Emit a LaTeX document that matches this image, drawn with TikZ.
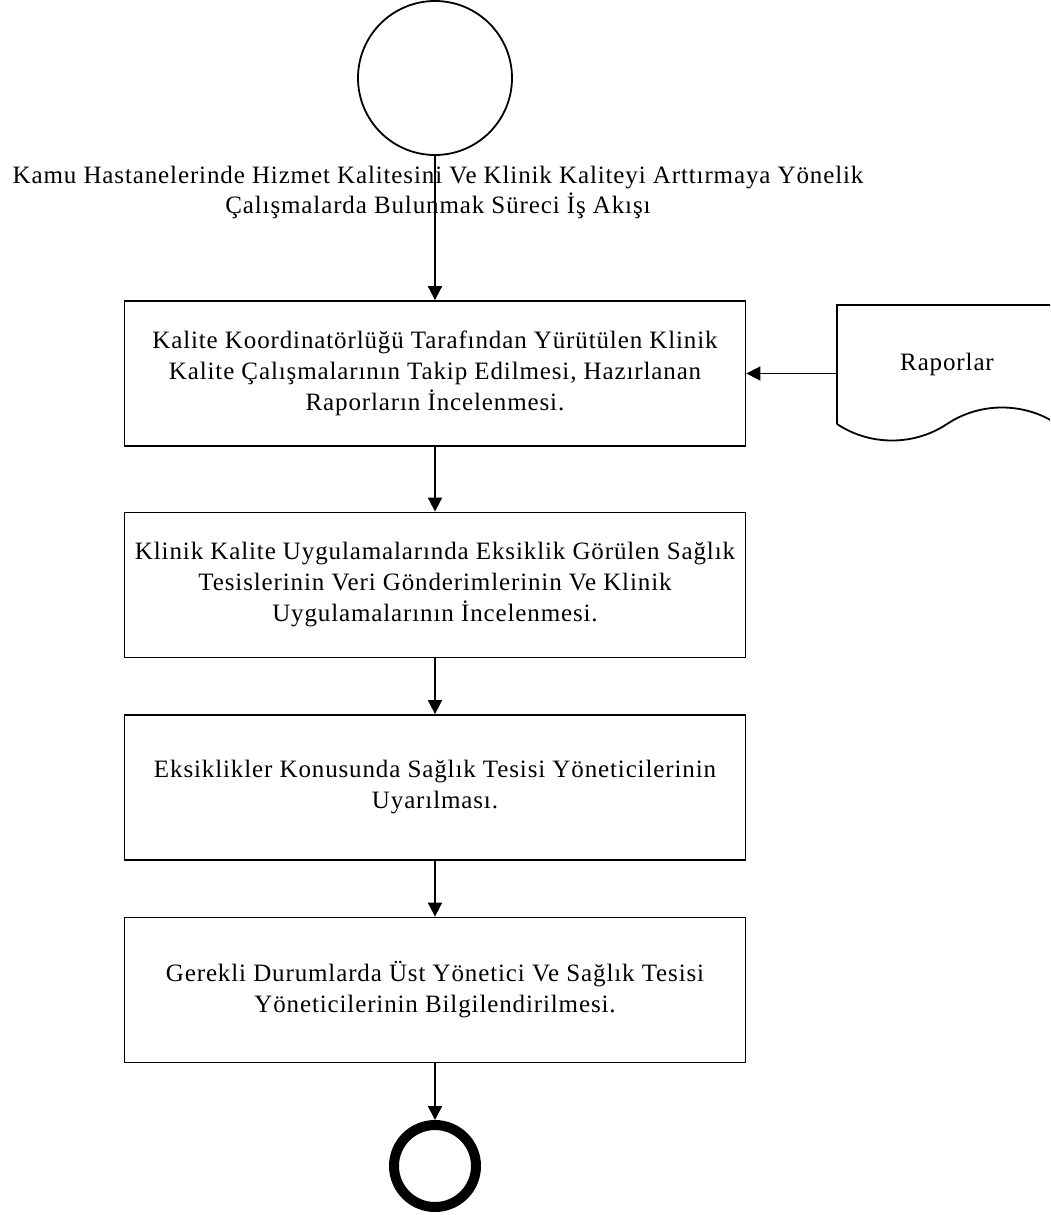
\documentclass[tikz,border=0pt]{standalone}
\usepackage{fontspec}
\setmainfont[LetterSpace=3.5]{Liberation Serif}
\usetikzlibrary{arrows.meta}
\begin{document}
\begin{tikzpicture}[x=1pt,y=-1pt,
  proc/.style={draw, line width=1.8pt, minimum width=621pt, minimum height=145pt, align=center, font=\fontsize{25}{31}\selectfont, inner sep=0pt},
  flow/.style={line width=1.8pt, -{Triangle[length=14pt,width=14pt]}},
  txt/.style={font=\fontsize{25}{30}\selectfont, align=center}]
\useasboundingbox (0,0) rectangle (1050,1215);
\clip (0,0) rectangle (1050,1215);
\node[circle, draw, line width=1.8pt, minimum size=154pt, inner sep=0pt] (start) at (435,78) {};
\node[txt] (title) at (438,192) {Kamu Hastanelerinde Hizmet Kalitesini Ve Klinik Kaliteyi Arttırmaya Yönelik\\Çalışmalarda Bulunmak Süreci İş Akışı};
\node[proc] (b1) at (435,373.5) {Kalite Koordinatörlüğü Tarafından Yürütülen Klinik\\Kalite Çalışmalarının Takip Edilmesi, Hazırlanan\\Raporların İncelenmesi.};
\node[proc] (b2) at (435,585) {Klinik Kalite Uygulamalarında Eksiklik Görülen Sağlık\\Tesislerinin Veri Gönderimlerinin Ve Klinik\\Uygulamalarının İncelenmesi.};
\node[proc] (b3) at (435,787.5) {Eksiklikler Konusunda Sağlık Tesisi Yöneticilerinin\\Uyarılması.};
\node[proc] (b4) at (435,990) {Gerekli Durumlarda Üst Yönetici Ve Sağlık Tesisi\\Yöneticilerinin Bilgilendirilmesi.};
\node[circle, draw, line width=10pt, minimum size=82pt, inner sep=0pt] (end) at (435,1166) {};
\node[minimum width=220pt, minimum height=119pt, inner sep=0pt, font=\fontsize{25}{30}\selectfont] (rap) at (947,364.5) {Raporlar};
\draw[line width=1.8pt] (837,424) -- (837,305) -- (1057,305) -- (1057,424)
  .. controls (1024,402) and (980,402) .. (947,424)
  .. controls (914,446) and (870,446) .. (837,424);
\draw[flow] (start) -- (b1);
\draw[flow] (b1) -- (b2);
\draw[flow] (b2) -- (b3);
\draw[flow] (b3) -- (b4);
\draw[flow] (b4) -- (end);
\draw[flow] (rap.west |- b1.east) -- (b1.east);
\end{tikzpicture}
\end{document}
